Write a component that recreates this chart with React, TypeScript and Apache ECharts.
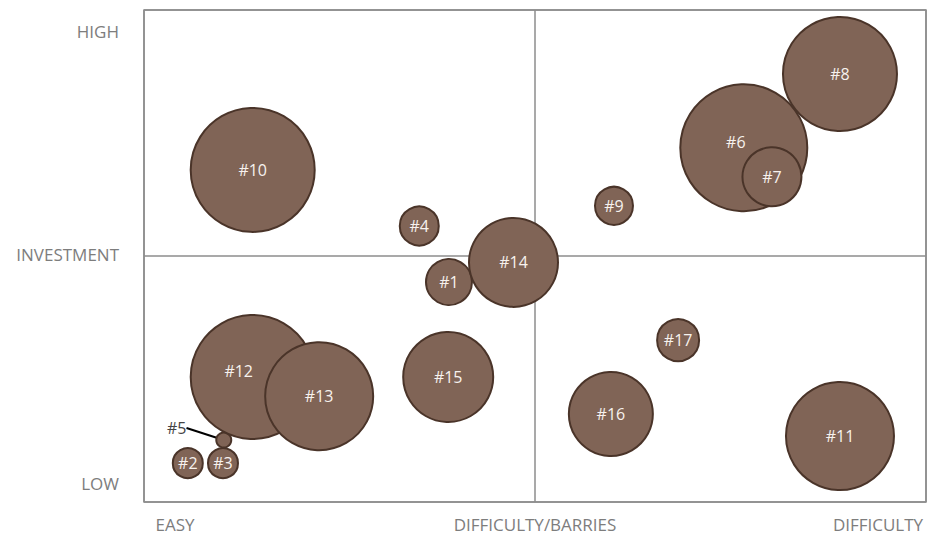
import React, { useEffect, useRef } from "react";
import * as echarts from "echarts";

const names = ["#1","#2","#3","#4","#5","#6","#7","#8","#9","#10","#11","#12","#13","#14","#15","#16","#17"];
const difficulty = [39.0, 5.6, 10.1, 35.2, 10.2, 76.7, 80.3, 89.0, 60.1, 13.9, 89.0, 13.9, 22.4, 47.25, 38.9, 59.7, 68.3];
const investment = [44.7, 7.9, 7.9, 56.1, 12.6, 72.0, 66.1, 87.0, 60.2, 67.5, 13.4, 25.4, 21.5, 48.7, 25.4, 17.9, 32.9];
const magnitude = [23, 15, 15, 19.5, 7.5, 63.5, 29.5, 57, 19, 62, 54, 62, 54, 44.5, 45, 42, 21];
const xTickLabels = ["EASY", "DIFFICULTY/BARRIES", "DIFFICULTY"];
const yTickLabels = ["LOW", "INVESTMENT", "HIGH"];

const FILL = "#806456";
const STROKE = "#4a3429";
const GREY = "#8c8c8c";
const TEXT = "#7d7d7d";
const FONT = "'Open Sans', Lato, sans-serif";

export default function App() {
  const ref = useRef<HTMLDivElement>(null);
  useEffect(() => {
    if (!ref.current) return;
    const chart = echarts.init(ref.current, null, { renderer: "svg" });
    const data = names.map((n, i) => {
      const item: any = { name: n, value: [difficulty[i], investment[i], magnitude[i]] };
      if (n === "#5") {
        item.label = { color: "#444444" };
        item.labelLine = { show: true, lineStyle: { color: "#000", width: 2 } };
      }
      return item;
    });
    const shifts: Record<string, number[]> = { "#5": [-47, -12], "#6": [-8, -6], "#12": [-14, -6] };
    const tx = (extra: any = {}) => ({ color: TEXT, fontFamily: FONT, fontSize: 17, ...extra });
    chart.setOption({
      animation: false,
      grid: { left: 144, top: 10, width: 782, height: 492, show: true, borderColor: GREY, borderWidth: 1.5 },
      xAxis: {
        type: "value", min: 0, max: 100, interval: 50,
        axisLine: { show: false }, axisTick: { show: false },
        splitLine: { show: true, lineStyle: { color: GREY, width: 1.5 } },
        axisLabel: {
          margin: 14,
          ...tx(),
          formatter: (v: number) => {
            const idx = Math.round(v / 50);
            return `{t${idx}|${xTickLabels[idx]}}`;
          },
          rich: {
            t0: tx({ padding: [0, 0, 0, 62] }),
            t1: tx(),
            t2: tx({ padding: [0, 96, 0, 0] }),
          },
        },
      },
      yAxis: {
        type: "value", min: 0, max: 100, interval: 50,
        axisLine: { show: false }, axisTick: { show: false },
        splitLine: { show: true, lineStyle: { color: GREY, width: 1.5 } },
        axisLabel: {
          margin: 25,
          ...tx(),
          formatter: (v: number) => {
            const idx = Math.round(v / 50);
            return `{t${idx}|${yTickLabels[idx]}}`;
          },
          rich: {
            t0: tx({ padding: [0, 0, 38, 0] }),
            t1: tx({ padding: [0, 0, 4, 0] }),
            t2: tx({ padding: [42, 0, 0, 0] }),
          },
        },
      },
      series: [
        {
          type: "scatter",
          data,
          symbolSize: (v: number[]) => v[2] * 2,
          itemStyle: { color: FILL, borderColor: STROKE, borderWidth: 2, opacity: 1 },
          label: {
            show: true,
            position: "inside",
            formatter: "{b}",
            color: "#f7f2ee",
            fontFamily: FONT,
            fontSize: 16,
          },
          labelLayout: (params: any) => {
            const s = shifts[names[params.dataIndex]];
            return s ? { dx: s[0], dy: s[1] } : {};
          },
          emphasis: { disabled: true },
        },
      ],
    });
    return () => chart.dispose();
  }, []);
  return <div ref={ref} style={{ width: 928, height: 537, position: "absolute", left: 0, top: 0 }} />;
}
